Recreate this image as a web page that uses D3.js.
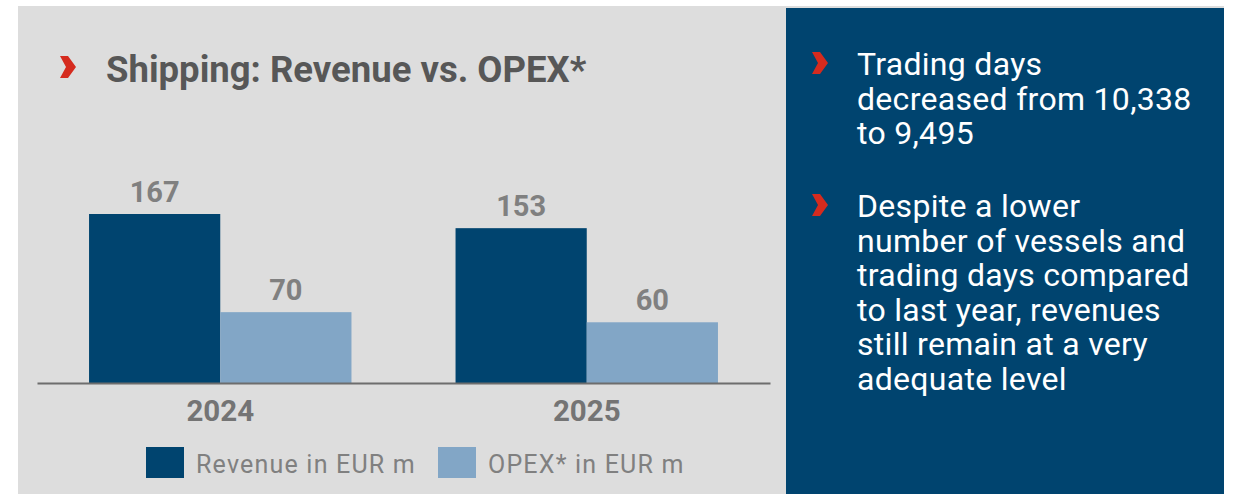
<!DOCTYPE html>
<html>
<head>
  <meta charset="utf-8">
  <title>Shipping: Revenue vs. OPEX</title>
  <script src="https://d3js.org/d3.v7.min.js"></script>
  <style>
    body {
      margin: 0;
      padding: 0;
      background: #ffffff;
    }
    svg {
      font-family: Roboto, "Noto Sans", Arial, sans-serif;
      display: block;
    }
  </style>
</head>
<body>
  <div id="chart"></div>

  <script>
    // chart data
    var years = ["2024", "2025"];
    var revenue = [167, 153];
    var opex = [70, 60];
    var seriesNames = ["Revenue in EUR m", "OPEX* in EUR m"];
    var title = "Shipping: Revenue vs. OPEX*";
    var bullets = [
      ["Trading days", "decreased from 10,338", "to 9,495"],
      ["Despite a lower", "number of vessels and", "trading days compared", "to last year, revenues", "still remain at a very", "adequate level"]
    ];

    var width = 1234, height = 494;
    var darkBlue = "#00446f", lightBlue = "#82a6c6", red = "#d52b1e";

    var svg = d3.select("#chart")
      .append("svg")
        .attr("width", width)
        .attr("height", height);

    // backgrounds
    svg.append("rect")
      .attr("x", 18).attr("y", 6)
      .attr("width", 1206).attr("height", 488)
      .attr("fill", "#dddddd");

    svg.append("rect")
      .attr("x", 786).attr("y", 8)
      .attr("width", 438).attr("height", 486)
      .attr("fill", darkBlue);

    // red chevron marker
    function chevron(x, y) {
      svg.append("path")
        .attr("d", "M" + x + "," + y + " l8,0 l8,11 l-8,11 l-8,0 l6,-11 z")
        .attr("fill", red);
    }

    chevron(60, 56);
    svg.append("text")
      .attr("x", 106).attr("y", 82)
      .attr("font-size", 36.5)
      .attr("font-weight", 700)
      .attr("fill", "#575757")
      .text(title);

    // scales
    var x0 = d3.scaleBand()
      .domain(years)
      .range([37, 770])
      .paddingInner(0.284)
      .paddingOuter(0.142);

    var x1 = d3.scaleBand()
      .domain([0, 1])
      .range([0, x0.bandwidth()]);

    var y = d3.scaleLinear()
      .domain([0, 167])
      .range([383, 214]);

    var color = d3.scaleOrdinal()
      .domain([0, 1])
      .range([darkBlue, lightBlue]);

    var rows = [];
    years.forEach(function(yr, i) {
      rows.push({ year: yr, s: 0, value: revenue[i] });
      rows.push({ year: yr, s: 1, value: opex[i] });
    });

    svg.selectAll(".bar")
      .data(rows)
      .enter()
      .append("rect")
        .attr("class", "bar")
        .attr("x", function(d) { return x0(d.year) + x1(d.s); })
        .attr("y", function(d) { return y(d.value); })
        .attr("width", x1.bandwidth())
        .attr("height", function(d) { return y(0) - y(d.value); })
        .attr("fill", function(d) { return color(d.s); });

    svg.selectAll(".val")
      .data(rows)
      .enter()
      .append("text")
        .attr("class", "val")
        .attr("x", function(d) { return x0(d.year) + x1(d.s) + x1.bandwidth() / 2; })
        .attr("y", function(d) { return y(d.value) - 12; })
        .attr("text-anchor", "middle")
        .attr("font-size", 29)
        .attr("font-weight", 700)
        .attr("fill", "#808080")
        .text(function(d) { return d.value; });

    // baseline axis
    var xAxis = svg.append("g")
      .attr("transform", "translate(0," + y(0) + ")")
      .call(d3.axisBottom(x0).tickSize(0).tickPadding(17));

    xAxis.select(".domain")
      .attr("stroke", "#6d6d6d")
      .attr("stroke-width", 2);

    xAxis.selectAll(".tick text")
      .attr("font-size", 29.5)
      .attr("font-weight", 700)
      .attr("font-family", "Roboto, sans-serif")
      .attr("fill", "#747474");

    // legend
    var legendX = [146, 438];
    var legend = svg.selectAll(".legend")
      .data(seriesNames)
      .enter()
      .append("g")
        .attr("class", "legend")
        .attr("transform", function(d, i) { return "translate(" + legendX[i] + ",447)"; });

    legend.append("rect")
      .attr("width", 38).attr("height", 31)
      .attr("fill", function(d, i) { return color(i); });

    legend.append("text")
      .attr("x", 50).attr("y", 26)
      .attr("font-size", 25)
      .attr("letter-spacing", 1.2)
      .attr("fill", "#808080")
      .text(function(d) { return d; });

    // right panel bullets
    var startY = [75, 217];
    bullets.forEach(function(lines, b) {
      chevron(812, startY[b] - 23);
      svg.append("text")
        .attr("font-size", 32)
        .attr("letter-spacing", 0.3)
        .attr("fill", "#ffffff")
        .selectAll("tspan")
        .data(lines)
        .enter()
        .append("tspan")
          .attr("x", 857)
          .attr("y", function(d, i) { return startY[b] + i * 34.6; })
          .text(function(d) { return d; });
    });
  </script>
</body>
</html>
